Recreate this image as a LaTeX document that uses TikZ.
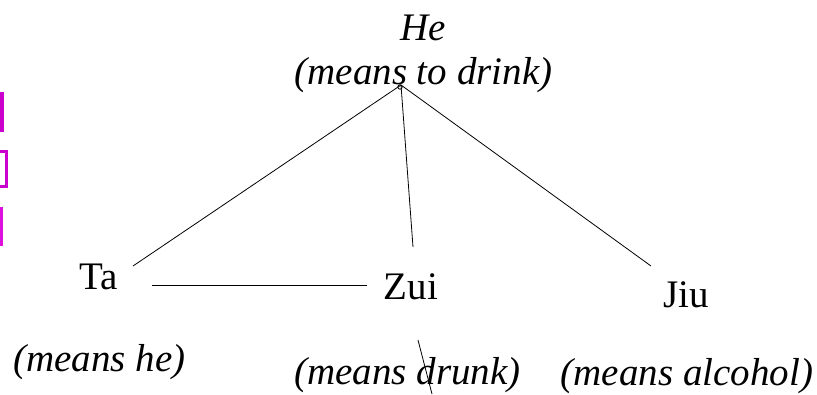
\documentclass[tikz,border=0pt]{standalone}
\usepackage{fontspec}
\setmainfont{Liberation Serif}
\definecolor{mag}{HTML}{CC00CC}
\definecolor{magl}{HTML}{DD11DD}
\begin{document}
\begin{tikzpicture}[x=1pt,y=-1pt,
  lbl/.style={inner sep=0pt,anchor=base,font=\fontsize{39}{47}\selectfont},
  ilbl/.style={lbl,font=\fontsize{39}{47}\selectfont\itshape},
  link/.style={draw=black,line width=0.8pt}]
\useasboundingbox (0,0) rectangle (817,394);
% magenta marks at left edge
\fill[mag] (0,92) rectangle (4,132);
\draw[mag,line width=2.6pt] (0,151.3) -- (6.7,151.3) -- (6.7,186.7) -- (0,186.7);
\fill[magl] (0,207) rectangle (3,246);
% texts
\node[ilbl] (he) at (423,40) {He};
\node[ilbl] (hem) at (423.5,84) {(means to drink)};
\node[lbl] (ta) at (99,289) {Ta};
\node[lbl] (zui) at (411,299) {Zui};
\node[lbl] (jiu) at (686,307) {Jiu};
\node[ilbl] (tam) at (99.5,371) {(means he)};
\node[ilbl] (zuim) at (407.5,384) {(means drunk)};
\node[ilbl] (jium) at (687,385) {(means alcohol)};
% connector points
\coordinate (apex) at (401,85);
\coordinate (taT) at (133,266);
\coordinate (zuiT) at (413,247);
\coordinate (jiuT) at (651,266);
\coordinate (taR) at (152,285);
\coordinate (zuiL) at (367,285);
\coordinate (dA) at (418,340);
\coordinate (dB) at (432,394);
\draw[link] (400,87) circle (2.2);
\draw[link] (apex) -- (taT);
\draw[link] (apex) -- (zuiT);
\draw[link] (apex) -- (jiuT);
\draw[link] (taR) -- (zuiL);
\draw[link] (dA) -- (dB);
\end{tikzpicture}
\end{document}
